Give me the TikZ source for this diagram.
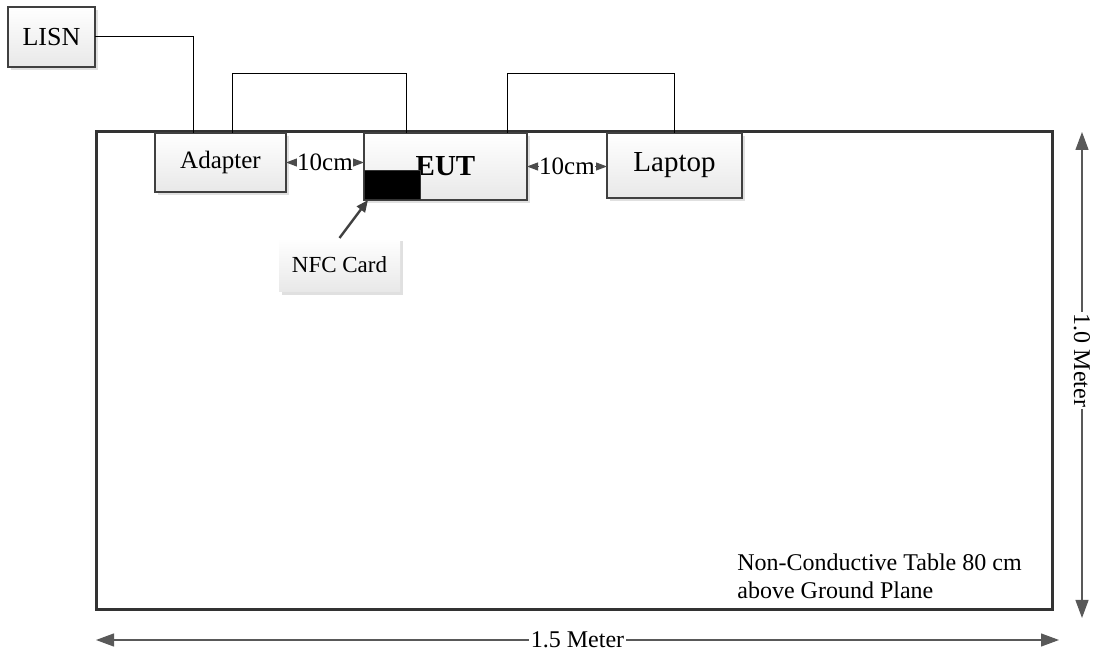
\documentclass[tikz,border=0pt]{standalone}
\usepackage{fontspec}
\setmainfont{Liberation Serif}
\usetikzlibrary{positioning,shadows,arrows.meta}
\newcommand{\fs}[1]{\fontsize{#1}{14}\selectfont}

\tikzset{
  unit/.style={draw=black!75, line width=1pt, top color=white, bottom color=black!9,
    drop shadow={shadow xshift=1.5pt, shadow yshift=-1.5pt, fill=black!12, opacity=1},
    inner sep=0pt, outer sep=0pt},
  cable/.style={draw=black, line width=0.5pt},
  gap/.style={draw=black!70, line width=0.5pt,
    {Triangle[length=5.5pt,width=4pt]}-{Triangle[length=5.5pt,width=4pt]}},
  gaplabel/.style={fill=white, inner sep=0.2pt, font=\fs{12.5}},
  dim/.style={draw=black!65, line width=0.6pt,
    {Triangle[length=9pt,width=6.5pt]}-{Triangle[length=9pt,width=6.5pt]}},
  dimlabel/.style={fill=white, inner sep=1pt, font=\fs{12}},
  pointer/.style={draw=black!75, line width=1.2pt, -{Triangle[length=6pt,width=5pt]}}
}

\begin{document}
\begin{tikzpicture}[x=0.5pt,y=-0.5pt]
\useasboundingbox (0,0) rectangle (1097,656);

% table
\node[draw=black!80, line width=1.5pt, minimum width=478pt, minimum height=239pt,
  inner sep=0pt] (tbl) at (574,371) {};

% equipment
\node[unit, minimum width=43.5pt, minimum height=30pt, font=\fs{13}] (lisn) at (51.5,37) {LISN};
\node[unit, minimum width=65.5pt, minimum height=29.5pt, font=\fs{12.5}] (adapter) at (220.5,162.5) {Adapter};
\node[unit, minimum width=81.5pt, minimum height=33.5pt, font=\fs{14.5}\bfseries] (eut) at (445.5,166.5) {EUT};
\node[unit, minimum width=67.5pt, minimum height=32.5pt, font=\fs{14.5}] (laptop) at (674.5,165.5) {Laptop};
\node[draw=black!80, line width=0.6pt, fill=black, minimum width=28pt, minimum height=14.5pt,
  inner sep=0pt, anchor=south west] (card) at (eut.south west) {};
\node[unit, draw=none, minimum width=60.5pt, minimum height=27pt, font=\fs{11.5}] (nfc) at (339.5,265) {NFC Card};

% cables
\draw[cable] (lisn.east) -| ([xshift=19pt]adapter.north west);
\draw[cable] ([xshift=38.5pt]adapter.north west) -- ++(0,-59) -| ([xshift=21pt]eut.north west);
\draw[cable] ([xshift=-10pt]eut.north east) -- ++(0,-59) -| (laptop.north);

% spacing
\draw[gap] (adapter.east) -- (adapter.east -| eut.west) node[midway, gaplabel] {10cm};
\draw[gap] (eut.east) -- (eut.east -| laptop.west) node[midway, gaplabel] {10cm};

\draw[pointer] (nfc.north) -- ([xshift=2pt]card.south west);

% dimensions
\coordinate (rtop) at (1082,132);
\coordinate (rbot) at (1082,618);
\coordinate (bl) at (96,640);
\coordinate (br) at (1059,640);
\draw[dim] (rtop) -- (rbot) node[pos=0.47, dimlabel, rotate=-90] {1.0 Meter};
\draw[dim] (bl) -- (br) node[pos=0.5, dimlabel] {1.5 Meter};

\node[anchor=north west, align=left, inner sep=0pt, font=\fontsize{12}{14}\selectfont]
  (note) at (737,553) {Non-Conductive Table 80 cm\\above Ground Plane};
\end{tikzpicture}
\end{document}
